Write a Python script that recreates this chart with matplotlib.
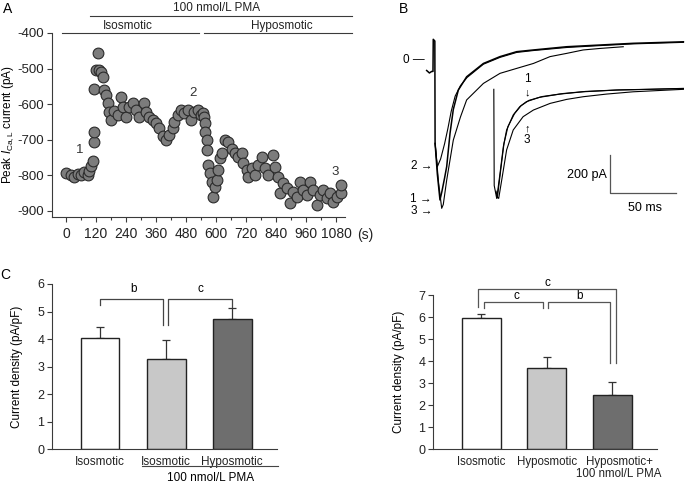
import numpy as np
import matplotlib.pyplot as plt

plt.rcParams['font.family'] = ['Liberation Sans', 'DejaVu Sans']
plt.rcParams['mathtext.fontset'] = 'custom'
plt.rcParams['mathtext.rm'] = 'Liberation Sans'
plt.rcParams['mathtext.it'] = 'Liberation Sans:italic'

W, H = 685, 483
LC = '#3a3a3a'

# ---- panel A: peak current vs time
time_s = [0, 20, 33, 47, 60, 73, 87, 93, 100, 107, 113, 113, 110, 120, 127, 133, 140, 147,
          153, 160, 167, 173, 180, 193, 207, 220, 227, 240, 253, 267, 280, 293, 313, 320,
          333, 347, 360, 373, 387, 400, 413, 427, 433, 447, 460, 473, 487, 500, 513, 527,
          540, 548, 553, 556, 556, 563, 563, 569, 576, 583, 589, 596, 603, 609, 616, 623,
          636, 649, 663, 676, 689, 703, 709, 723, 729, 743, 756, 769, 783, 796, 809, 829,
          836, 849, 856, 869, 883, 896, 909, 923, 936, 949, 963, 976, 989, 1003, 1016,
          1029, 1043, 1056, 1069, 1083, 1100, 1100]
peak_pA = [-793, -800, -805, -795, -800, -790, -800, -788, -775, -760, -705, -677, -557, -505,
           -455, -504, -510, -523, -560, -575, -597, -621, -644, -620, -631, -579, -607, -635,
           -607, -597, -617, -635, -597, -621, -635, -644, -653, -667, -690, -700, -686, -667,
           -649, -631, -617, -626, -617, -644, -621, -617, -631, -625, -635, -653, -677, -700,
           -729, -771, -794, -818, -860, -832, -813, -785, -751, -738, -700, -706, -725, -738,
           -748, -738, -766, -785, -804, -780, -799, -771, -748, -780, -799, -743, -776, -804,
           -850, -822, -836, -878, -846, -860, -818, -841, -855, -818, -841, -883, -855, -841,
           -864, -850, -874, -860, -850, -827]
a_xticks = [0, 120, 240, 360, 480, 600, 720, 840, 960, 1080]
a_yticks = [-400, -500, -600, -700, -800, -900]

# ---- panel B: current traces (ms, pA)
l1_t = [-5.6, -3.5, -1.8, -0.8, -0.6, 0.6, 0.8, 2.5, 4.5, 6.0, 8.0, 9.6, 12.1, 14.6, 18.4, 24.7,
        37.4, 50, 62.6, 75.3, 100.5, 125.8, 151, 189]
l1_i = [-55, -68, -60, -60, 109, 100, -438, -600, -736, -690, -620, -560, -386, -260, -158, -88,
        -18, 18, 44, 53, 70, 79, 88, 96]
l2_t = [0.8, 2.5, 5.0, 8.0, 10.5, 13.0, 16.0, 20.0, 25.0, 37.4, 50, 62.6, 75.3, 100.5, 125.8,
        151, 189]
l2_i = [-438, -561, -520, -440, -360, -270, -190, -135, -92, -22, 14, 40, 50, 66, 76, 85, 93]
l3_t = [0.8, 3.5, 5.8, 7.0, 9.6, 14.6, 20.0, 24.7, 37.4, 50, 62.6, 75.3, 87.9, 100.5, 113,
        125.8, 143.4]
l3_i = [-438, -650, -780, -760, -631, -421, -300, -210, -123, -70, -44, -18, 18, 35, 53, 61, 70]
r1_t = [45.3, 45.6, 47.5, 50, 52.5, 55, 60, 65, 70, 80, 95.5, 113, 138, 164, 189]
r1_i = [-154, -660, -728, -596, -456, -368, -289, -245, -219, -196, -179, -167, -158, -154, -149]
r2_t = [47, 48, 50.5, 53, 56, 61, 66, 72, 82, 98, 115, 140, 189]
r2_i = [-690, -725, -580, -440, -350, -282, -240, -212, -192, -176, -165, -157, -150]
r3_t = [48, 49, 51.3, 55, 60, 67.5, 75.3, 88, 100.5, 113, 130.8, 151, 189]
r3_i = [-720, -728, -631, -473, -368, -298, -263, -228, -207, -193, -179, -167, -154]

# ---- panel C: current density
c1_groups = ['Isosmotic', 'Isosmotic', 'Hyposmotic']
c1_mean = [4.05, 3.28, 4.72]
c1_err = [0.40, 0.70, 0.40]
c2_groups = ['Isosmotic', 'Hyposmotic', 'Hyposmotic+\n100 nmol/L PMA']
c2_mean = [5.97, 3.67, 2.47]
c2_err = [0.18, 0.53, 0.56]
bar_colors = ['white', '#c8c8c8', '#6e6e6e']


def px_axes(fig, x0, y0, x1, y1):
    return fig.add_axes([x0 / W, 1 - y1 / H, (x1 - x0) / W, (y1 - y0) / H])


def style(ax, size=9):
    for s in ['top', 'right']:
        ax.spines[s].set_visible(False)
    for s in ['left', 'bottom']:
        ax.spines[s].set_color(LC)
        ax.spines[s].set_linewidth(0.8)
    ax.tick_params(colors=LC, labelcolor='#222222', width=0.8, length=3.5, labelsize=size, pad=2)


fig = plt.figure(figsize=(W / 100, H / 100), dpi=100)

# ===== A
ax = px_axes(fig, 52, 33, 345, 217)
style(ax, 10)
ax.scatter(time_s, peak_pA, s=60, facecolor='#7c7c7c', edgecolor='#2a2a2a', linewidth=0.8,
           zorder=3, clip_on=False)
ax.set_xlim(-56, 1116)
ax.set_ylim(-917, -400)
ax.set_xticks(a_xticks)
ax.set_xticks(np.arange(60, 1100, 120), minor=True)
ax.tick_params(which='minor', length=2.5, width=0.8, colors=LC)
ax.set_yticks(a_yticks)
ax.set_yticklabels([str(v) for v in a_yticks])
ax.set_xticklabels([str(v) for v in a_xticks])
ax.tick_params(axis='x', pad=4)
ax.tick_params(axis='y', labelsize=9.5)
ax.set_ylabel(r'Peak $\it{I}_{\rm Ca,L}$ current (pA)', fontsize=8.5)
ax.yaxis.set_label_coords(-0.122, 0.5)
ax.text(1.04, -0.06, '(s)', transform=ax.transAxes, fontsize=10, va='top', ha='left',
        color='#222222')
for txt, tx, ty in [('1', 56, -745), ('2', 508, -585), ('3', 1076, -808)]:
    ax.text(tx, ty, txt, fontsize=9.5, ha='center', va='bottom', color='#333333')
ax.plot([96, 1144], [-352, -352], color=LC, lw=0.8, clip_on=False)
ax.plot([-16, 532], [-400, -400], color=LC, lw=0.8, clip_on=False)
ax.plot([552, 1144], [-400, -400], color=LC, lw=0.8, clip_on=False)
ax.text(604, -348, '100 nmol/L PMA', fontsize=8.5, ha='center', va='bottom', color='#222222')
ax.text(248, -396, 'Isosmotic', fontsize=8.5, ha='center', va='bottom', color='#222222')
ax.text(864, -396, 'Hyposmotic', fontsize=8.5, ha='center', va='bottom', color='#222222')
fig.text(8 / W, 1 - 9 / H, 'A', fontsize=10, va='center', ha='center')

# ===== B
bx = px_axes(fig, 400, 30, 685, 230)
bx.axis('off')
bx.set_xlim(-25.8, 190.2)
bx.set_ylim(-894, 158)
bx.plot(l1_t, l1_i, color='black', lw=1.1)
for tt, ii in [(l2_t, l2_i), (l3_t, l3_i), (r1_t, r1_i), (r2_t, r2_i), (r3_t, r3_i)]:
    bx.plot(tt, ii, color='black', lw=0.8)
bx.plot([133.3, 133.3, 183.3], [-500, -700, -700], color='#555555', lw=0.9)
bx.text(131, -605, '200 pA', fontsize=9, ha='right', va='center')
bx.text(160, -745, '50 ms', fontsize=9, ha='center', va='top')
bx.text(-6.8, 0, '0 \u2014', fontsize=8.5, ha='right', va='center')
for txt, iy in [('2 \u2192', -558), ('1 \u2192', -733), ('3 \u2192', -795)]:
    bx.text(-1.5, iy, txt, fontsize=8.5, ha='right', va='center')
bx.text(70.5, -100, '1', fontsize=8.5, ha='center', va='center')
bx.text(70.5, -172, '\u2193', fontsize=8, ha='center', va='center')
bx.text(70.5, -358, '\u2191', fontsize=8, ha='center', va='center')
bx.text(70.5, -421, '3', fontsize=8.5, ha='center', va='center')
fig.text(404 / W, 1 - 9 / H, 'B', fontsize=10, va='center', ha='center')

# ===== C left
cx = px_axes(fig, 52, 284, 277, 449.3)
style(cx)
xs = np.arange(3)
cx.bar(xs, c1_mean, width=0.59, color=bar_colors, edgecolor='#222222', linewidth=1.0, zorder=2)
cx.errorbar(xs, c1_mean, yerr=[[0, 0, 0], c1_err], fmt='none', ecolor='#333333', elinewidth=0.9,
            capsize=3, capthick=0.9, zorder=1)
cx.set_xlim(-0.727, 2.68)
cx.set_ylim(0, 6)
cx.set_yticks(range(7))
cx.set_xticks(xs)
cx.set_xticklabels(c1_groups, fontsize=8.5)
cx.tick_params(axis='x', length=0, pad=5)
cx.set_ylabel('Current density (pA/pF)', fontsize=8.5)
cx.yaxis.set_label_coords(-0.128, 0.5)
cx.plot([0, 0, 0.955, 0.955], [5.22, 5.45, 5.45, 4.5], color='#444444', lw=0.9, clip_on=False)
cx.plot([1.03, 1.03, 2.0, 2.0], [4.5, 5.45, 5.45, 5.16], color='#444444', lw=0.9, clip_on=False)
cx.text(0.5, 5.83, 'b', fontsize=8.5, ha='center', va='center')
cx.text(1.52, 5.83, 'c', fontsize=8.5, ha='center', va='center')
cx.plot([0.64, 2.7], [-0.61, -0.61], color='#444444', lw=0.8, clip_on=False)
cx.text(1.67, -1.04, '100 nmol/L PMA', fontsize=8.5, ha='center', va='center')
fig.text(5 / W, 1 - 275 / H, 'C', fontsize=10, va='center', ha='center')

# ===== C right
dx = px_axes(fig, 433, 295, 657, 449)
style(dx)
dx.bar(xs, c2_mean, width=0.595, color=bar_colors, edgecolor='#222222', linewidth=1.0, zorder=2)
dx.errorbar(xs, c2_mean, yerr=[[0, 0, 0], c2_err], fmt='none', ecolor='#333333', elinewidth=0.9,
            capsize=3, capthick=0.9, zorder=1)
dx.set_xlim(-0.74, 2.68)
dx.set_ylim(0, 7)
dx.set_yticks(range(8))
dx.set_xticks([0, 1, 2.1])
dx.set_xticklabels(c2_groups, fontsize=8.3, linespacing=1.05)
dx.tick_params(axis='x', length=0, pad=5)
dx.set_ylabel('Current density (pA/pF)', fontsize=8.5)
dx.yaxis.set_label_coords(-0.125, 0.5)
dx.plot([-0.05, -0.05, 2.05, 2.05], [6.45, 7.26, 7.26, 3.9], color='#555555', lw=0.9, clip_on=False)
dx.plot([0.04, 0.04, 0.94, 0.94], [6.39, 6.7, 6.7, 6.39], color='#555555', lw=0.9, clip_on=False)
dx.plot([1.02, 1.02, 1.96, 1.96], [6.39, 6.7, 6.7, 3.9], color='#555555', lw=0.9, clip_on=False)
dx.text(1.0, 7.55, 'c', fontsize=8.5, ha='center', va='center')
dx.text(0.54, 6.95, 'c', fontsize=8.5, ha='center', va='center')
dx.text(1.49, 6.95, 'b', fontsize=8.5, ha='center', va='center')

fig.savefig('out.png', dpi=100)
